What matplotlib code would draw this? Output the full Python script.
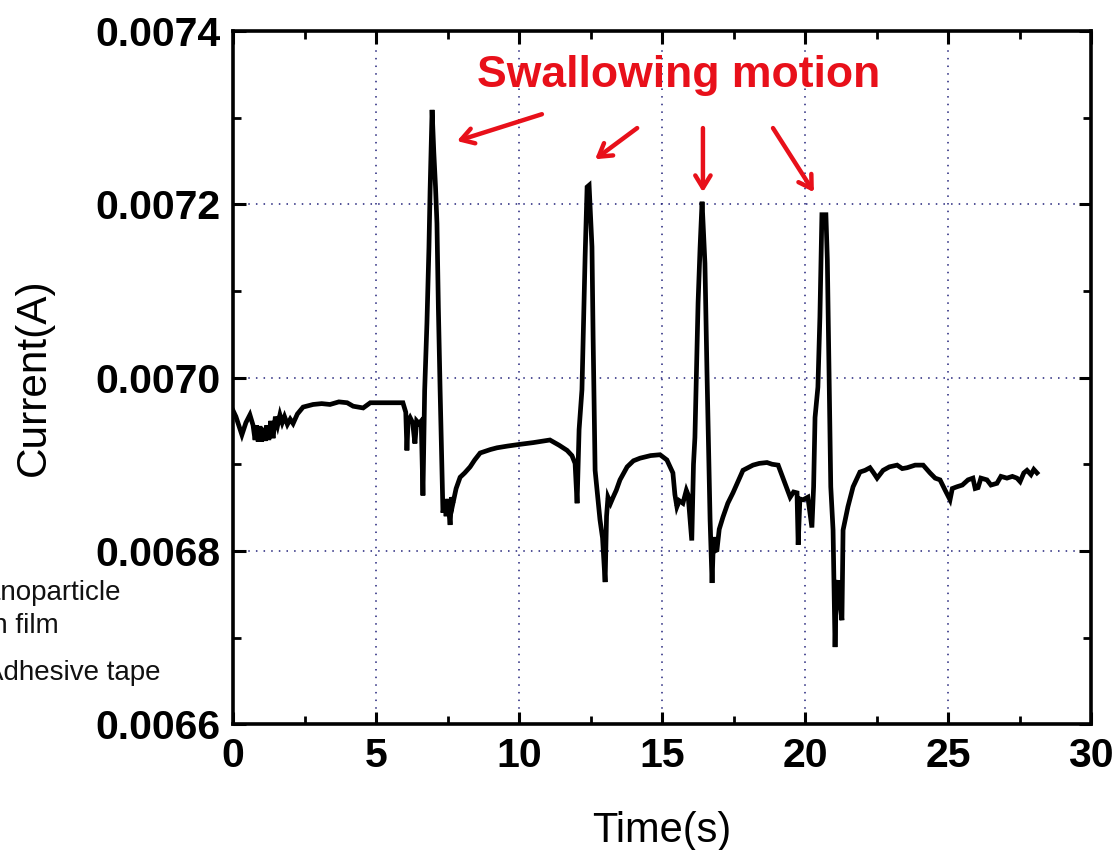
import matplotlib
matplotlib.use("Agg")
import matplotlib.pyplot as plt
from matplotlib.ticker import MultipleLocator, FormatStrFormatter

plt.rcParams['font.family'] = ['Liberation Sans', 'DejaVu Sans']

time_s = [0.00, 0.10, 0.20, 0.31, 0.45, 0.59, 0.70, 0.77, 0.82, 0.88, 0.94, 1.00, 1.06, 1.12,
          1.18, 1.25, 1.32, 1.40, 1.48, 1.56, 1.64, 1.72, 1.80, 1.90, 2.00, 2.10, 2.25, 2.45,
          2.80, 3.10, 3.39, 3.70, 3.99, 4.20, 4.55, 4.80, 5.03, 5.50, 5.94, 6.04, 6.08, 6.12,
          6.19, 6.28, 6.36, 6.42, 6.50, 6.58, 6.64, 6.70, 6.78, 6.85, 6.89, 6.96, 7.02, 7.08,
          7.13, 7.18, 7.24, 7.30, 7.34, 7.40, 7.45, 7.50, 7.55, 7.59, 7.64, 7.69, 7.80, 7.94,
          8.10, 8.29, 8.45, 8.64, 9.00, 9.23, 9.60, 10.03, 10.50, 11.08, 11.40, 11.68, 11.85,
          11.96, 12.03, 12.10, 12.20, 12.31, 12.38, 12.45, 12.55, 12.59, 12.66, 12.83, 12.92,
          13.01, 13.06, 13.11, 13.20, 13.29, 13.40, 13.53, 13.78, 14.00, 14.23, 14.60, 14.93,
          15.17, 15.38, 15.45, 15.52, 15.60, 15.73, 15.85, 15.91, 16.04, 16.10, 16.15, 16.26,
          16.33, 16.40, 16.50, 16.57, 16.68, 16.75, 16.80, 16.85, 16.92, 17.00, 17.13, 17.30,
          17.48, 17.83, 18.18, 18.40, 18.67, 18.85, 19.06, 19.30, 19.48, 19.60, 19.72, 19.76,
          19.82, 19.93, 20.10, 20.24, 20.30, 20.35, 20.45, 20.52, 20.59, 20.73, 20.78, 20.84,
          20.90, 20.98, 21.05, 21.10, 21.15, 21.22, 21.29, 21.33, 21.50, 21.68, 21.92, 22.10,
          22.27, 22.40, 22.52, 22.73, 22.95, 23.22, 23.40, 23.57, 23.85, 24.13, 24.37, 24.55,
          24.72, 24.90, 25.07, 25.15, 25.31, 25.50, 25.70, 25.87, 25.95, 26.05, 26.15, 26.36,
          26.50, 26.71, 26.85, 27.06, 27.25, 27.41, 27.52, 27.65, 27.76, 27.90, 28.00, 28.11]

current_A = [0.006962, 0.006955, 0.006945, 0.006934, 0.006948, 0.006957, 0.006945, 0.006928,
             0.006945, 0.006926, 0.006944, 0.006926, 0.006942, 0.006927, 0.006945, 0.006928,
             0.006950, 0.006930, 0.006955, 0.006945, 0.006957, 0.006948, 0.006955, 0.006946,
             0.006952, 0.006947, 0.006958, 0.006966, 0.006969, 0.006970, 0.006969, 0.006972,
             0.006971, 0.006967, 0.006965, 0.006971, 0.006971, 0.006971, 0.006971, 0.006960,
             0.006916, 0.006950, 0.006954, 0.006948, 0.006924, 0.006950, 0.006947, 0.006950,
             0.006864, 0.006985, 0.007063, 0.007150, 0.007216, 0.007309, 0.007260, 0.007220,
             0.007178, 0.007080, 0.006986, 0.006900, 0.006844, 0.006858, 0.006840, 0.006860,
             0.006845, 0.006830, 0.006862, 0.006855, 0.006872, 0.006885, 0.006890, 0.006897,
             0.006905, 0.006913, 0.006917, 0.006919, 0.006921, 0.006923, 0.006925, 0.006928,
             0.006922, 0.006916, 0.006910, 0.006901, 0.006855, 0.006940, 0.006986, 0.007139,
             0.007220, 0.007222, 0.007151, 0.007047, 0.006893, 0.006836, 0.006815, 0.006764,
             0.006840, 0.006862, 0.006855, 0.006862, 0.006870, 0.006882, 0.006897, 0.006904,
             0.006907, 0.006910, 0.006911, 0.006905, 0.006890, 0.006865, 0.006851, 0.006858,
             0.006855, 0.006870, 0.006865, 0.006812, 0.006900, 0.006931, 0.007086, 0.007150,
             0.007203, 0.007132, 0.007009, 0.006836, 0.006763, 0.006816, 0.006800, 0.006801,
             0.006825, 0.006839, 0.006855, 0.006867, 0.006893, 0.006899, 0.006901, 0.006902,
             0.006900, 0.006899, 0.006878, 0.006862, 0.006868, 0.006867, 0.006807, 0.006860,
             0.006859, 0.006862, 0.006827, 0.006874, 0.006954, 0.006989, 0.007070, 0.007188,
             0.007188, 0.007136, 0.007001, 0.006874, 0.006824, 0.006689, 0.006760, 0.006766,
             0.006740, 0.006720, 0.006824, 0.006851, 0.006874, 0.006891, 0.006893, 0.006896,
             0.006890, 0.006884, 0.006893, 0.006897, 0.006899, 0.006895, 0.006896, 0.006899,
             0.006899, 0.006890, 0.006884, 0.006882, 0.006870, 0.006859, 0.006872, 0.006874,
             0.006876, 0.006882, 0.006884, 0.006872, 0.006873, 0.006884, 0.006882, 0.006876,
             0.006878, 0.006886, 0.006884, 0.006886, 0.006884, 0.006880, 0.006890, 0.006893,
             0.006888, 0.006894, 0.006890]

x_ticks = [0, 5, 10, 15, 20, 25, 30]
y_ticks = [0.0066, 0.0068, 0.0070, 0.0072, 0.0074]

annotation_text = "Swallowing motion"
arrow_starts = [(10.80, 0.007304), (14.13, 0.007288), (16.43, 0.007288), (18.88, 0.007288)]
arrow_tips = [(7.83, 0.007273), (12.66, 0.007252), (16.43, 0.007214), (20.31, 0.007214)]

fig = plt.figure(figsize=(11.15, 8.5), dpi=100)
ax = fig.add_axes([0.209, 0.148, 0.7695, 0.8155])

ax.plot(time_s, current_A, color='black', lw=3.4, solid_joinstyle='miter')

ax.set_xlim(0, 30)
ax.set_ylim(0.0066, 0.0074)
ax.set_xticks(x_ticks)
ax.set_yticks(y_ticks)
ax.xaxis.set_minor_locator(MultipleLocator(2.5))
ax.yaxis.set_minor_locator(MultipleLocator(0.0001))
ax.yaxis.set_major_formatter(FormatStrFormatter('%.4f'))
ax.xaxis.set_major_formatter(FormatStrFormatter('%d'))

ax.grid(True, which='major', linestyle=(0, (1, 4)), color='#22227a', lw=1.1)
for s in ax.spines.values():
    s.set_linewidth(2.6)
ax.tick_params(which='major', direction='in', length=9, width=2.2, top=True, right=True,
               labelsize=29.5, pad=9)
ax.tick_params(which='minor', direction='in', length=5.5, width=2.0, top=True, right=True)
for lab in ax.get_xticklabels() + ax.get_yticklabels():
    lab.set_fontweight('bold')

ax.set_xlabel('Time(s)', fontsize=30, labelpad=26)
ax.set_ylabel('Current(A)', fontsize=30.5, labelpad=30)

ax.text(15.59, 0.007349, annotation_text, color='#e8101a', fontsize=32, fontweight='bold',
        ha='center', va='center')
for (sx, sy), (tx, ty) in zip(arrow_starts, arrow_tips):
    ax.annotate('', xy=(tx, ty), xytext=(sx, sy),
                arrowprops=dict(arrowstyle='->,head_length=0.9,head_width=0.55',
                                color='#e8101a', lw=3.2, shrinkA=0, shrinkB=0))

fig.text(-34 / 1115, 1 - 600 / 850, 'Nanoparticle', fontsize=20, color='#111111')
fig.text(-37 / 1115, 1 - 633 / 850, 'thin film', fontsize=20, color='#111111')
fig.text(-15 / 1115, 1 - 680 / 850, 'Adhesive tape', fontsize=20, color='#111111')

fig.savefig('out.png', dpi=100)
